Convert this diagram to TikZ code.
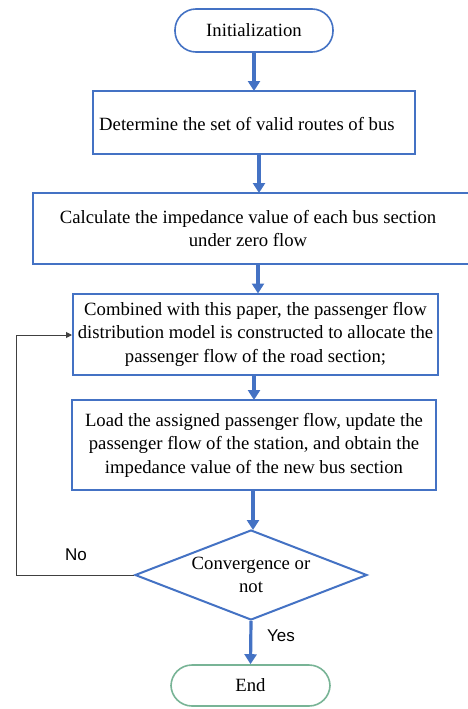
\documentclass[tikz,border=0pt]{standalone}
\usepackage{fontspec}
\setmainfont{Liberation Serif}
\newfontfamily\labelfont{Liberation Sans}
\usetikzlibrary{arrows.meta,shapes.geometric}
\definecolor{bblue}{RGB}{68,114,196}
\definecolor{egreen}{RGB}{120,180,150}
\definecolor{lgrey}{RGB}{64,64,64}
\tikzset{
  procbox/.style={draw=bblue,line width=2pt,inner sep=0pt,align=center,font=\fontsize{18.7}{23.5}\selectfont},
  termbox/.style={draw=#1,line width=1.6pt,rounded corners=21pt,inner sep=0pt,font=\fontsize{18.7}{23.5}\selectfont},
  flowarrow/.style={draw=bblue,line width=3.2pt,-{Triangle[length=10pt,width=12pt]}},
  noline/.style={draw=lgrey,line width=1pt,-{Triangle[length=6pt,width=6pt]}},
}
\begin{document}
\begin{tikzpicture}[x=1pt,y=-1pt]
\useasboundingbox (0,0) rectangle (467,709);
\fill[white] (0,0) rectangle (467,709);
\node[termbox=bblue,minimum width=158pt,minimum height=43pt] (init) at (254,30.5) {Initialization};
\node[procbox,minimum width=322pt,minimum height=63pt] (routes) at (254,122.5) {};
\node[anchor=west,font=\fontsize{18.7}{23.5}\selectfont,inner sep=0pt] (routestxt) at (99,124) {Determine the set of valid routes of bus};
\node[procbox,minimum width=440pt,minimum height=71pt] (imped) at (253,228.5) {\hspace*{-10pt}Calculate the impedance value of each bus section\\\hspace*{-10pt}under zero flow};
\node[procbox,minimum width=365pt,minimum height=81pt] (model) at (255.5,334) {Combined with this paper, the passenger flow\\distribution model is constructed to allocate the\\passenger flow of the road section;};
\node[procbox,minimum width=364pt,minimum height=90pt] (load) at (254,445) {Load the assigned passenger flow, update the\\passenger flow of the station, and obtain the\\impedance value of the new bus section};
\node[diamond,draw=bblue,line width=2pt,minimum width=232pt,minimum height=90pt,inner sep=0pt,align=center,font=\fontsize{18.7}{23.5}\selectfont,aspect=2.58] (conv) at (251,575) {Convergence or\\not};
\node[termbox=egreen,minimum width=159pt,minimum height=41pt] (end) at (250.5,685.5) {End};
\draw[flowarrow] (init.south) -- (254,91);
\draw[flowarrow] (259,154) -- (259,193);
\draw[flowarrow] (258,264) -- (258,293.5);
\draw[flowarrow] (254,374.5) -- (254,400);
\draw[flowarrow] (253,490) -- (253,530);
\draw[flowarrow] (conv.south) -- (end.north);
\draw[noline] (conv.west) -- (16,575) -- (16,335) -- (model.west |- 0,335);
\node[font=\labelfont\fontsize{17}{20}\selectfont,inner sep=0pt] (nolbl) at (76,555) {No};
\node[font=\labelfont\fontsize{17}{20}\selectfont,inner sep=0pt] (yeslbl) at (281,636) {Yes};
\end{tikzpicture}
\end{document}
